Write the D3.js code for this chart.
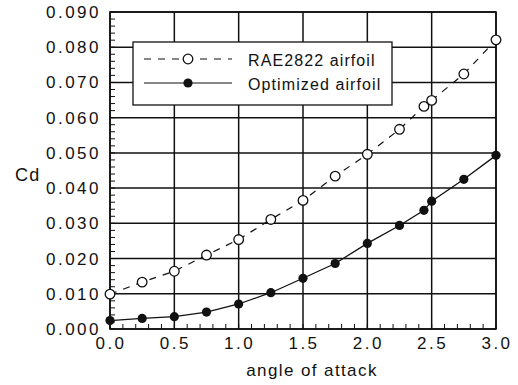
<!DOCTYPE html>
<html>
<head>
<meta charset="utf-8">
<script src="https://cdn.jsdelivr.net/npm/d3@7"></script>
<style>
  html, body { margin: 0; padding: 0; background: #fff; }
  svg text { font-family: "Liberation Sans", Arial, Helvetica, sans-serif; fill: #111; }
</style>
</head>
<body>
<svg id="chart" width="518" height="385"></svg>
<script>
// Drag coefficient vs angle of attack
const alphaRAE = [0, 0.25, 0.5, 0.75, 1.0, 1.25, 1.5, 1.75, 2.0, 2.25, 2.44, 2.5, 2.75, 3.0];
const cdRAE    = [0.0099, 0.0133, 0.0164, 0.0210, 0.0254, 0.0311, 0.0365, 0.0434, 0.0496, 0.0567, 0.0632, 0.0649, 0.0724, 0.0821];
const alphaOpt = [0, 0.25, 0.5, 0.75, 1.0, 1.25, 1.5, 1.75, 2.0, 2.25, 2.44, 2.5, 2.75, 3.0];
const cdOpt    = [0.0024, 0.0030, 0.0035, 0.0048, 0.0071, 0.0103, 0.0144, 0.0186, 0.0243, 0.0294, 0.0337, 0.0363, 0.0425, 0.0493];

const xTicks = [0, 0.5, 1.0, 1.5, 2.0, 2.5, 3.0];
const yTicks = [0, 0.01, 0.02, 0.03, 0.04, 0.05, 0.06, 0.07, 0.08, 0.09];
const seriesNames = ["RAE2822 airfoil", "Optimized airfoil"];

const svg = d3.select("#chart");
const ink = "#111";

const x = d3.scaleLinear().domain([0, 3]).range([110, 496]);
const y = d3.scaleLinear().domain([0, 0.09]).range([329, 12]);

// grid
const grid = svg.append("g").attr("stroke", ink).attr("stroke-width", 1.5);
grid.selectAll("line.vx").data(xTicks).join("line")
  .attr("x1", d => x(d)).attr("x2", d => x(d))
  .attr("y1", y(0)).attr("y2", y(0.09));
grid.selectAll("line.hy").data(yTicks).join("line")
  .attr("x1", x(0)).attr("x2", x(3))
  .attr("y1", d => y(d)).attr("y2", d => y(d));

// frame
svg.append("rect")
  .attr("x", x(0)).attr("y", y(0.09))
  .attr("width", x(3) - x(0)).attr("height", y(0) - y(0.09))
  .attr("fill", "none").attr("stroke", ink).attr("stroke-width", 1.6);

// minor ticks, pointing inward
const xMinor = d3.range(0, 31).map(i => i / 10);
const yMinor = d3.range(0, 46).map(i => i * 0.002);
svg.append("g").attr("stroke", ink).attr("stroke-width", 1)
  .selectAll("line").data(xMinor).join("line")
  .attr("x1", d => x(d)).attr("x2", d => x(d))
  .attr("y1", y(0)).attr("y2", y(0) - 5);
svg.append("g").attr("stroke", ink).attr("stroke-width", 1)
  .selectAll("line").data(yMinor).join("line")
  .attr("x1", x(0)).attr("x2", x(0) + 5)
  .attr("y1", d => y(d)).attr("y2", d => y(d));

// tick labels
svg.append("g").selectAll("text").data(xTicks).join("text")
  .attr("x", d => x(d) + 1).attr("y", 349)
  .attr("text-anchor", "middle")
  .attr("font-size", 17).attr("letter-spacing", 2.5)
  .text(d => d.toFixed(1));
svg.append("g").selectAll("text").data(yTicks).join("text")
  .attr("x", 101).attr("y", d => y(d) + 6)
  .attr("text-anchor", "end")
  .attr("font-size", 17).attr("letter-spacing", 2.5)
  .text(d => d.toFixed(3));

// axis titles
svg.append("text").attr("x", 312).attr("y", 376)
  .attr("text-anchor", "middle").attr("font-size", 17).attr("letter-spacing", 1.4)
  .text("angle of attack");
svg.append("text").attr("x", 15).attr("y", 181)
  .attr("font-size", 18).attr("letter-spacing", 1.2)
  .text("Cd");

// series
const line = d3.line().x(d => x(d[0])).y(d => y(d[1]));
const rae = alphaRAE.map((a, i) => [a, cdRAE[i]]);
const opt = alphaOpt.map((a, i) => [a, cdOpt[i]]);

svg.append("path").datum(rae).attr("d", line)
  .attr("fill", "none").attr("stroke", ink).attr("stroke-width", 1.2)
  .attr("stroke-dasharray", "7,7");
svg.append("path").datum(opt).attr("d", line)
  .attr("fill", "none").attr("stroke", ink).attr("stroke-width", 1.3);

svg.append("g").selectAll("circle").data(rae).join("circle")
  .attr("cx", d => x(d[0])).attr("cy", d => y(d[1])).attr("r", 4.8)
  .attr("fill", "#fff").attr("stroke", ink).attr("stroke-width", 1.3);
svg.append("g").selectAll("circle").data(opt).join("circle")
  .attr("cx", d => x(d[0])).attr("cy", d => y(d[1])).attr("r", 4.6)
  .attr("fill", ink);

// legend
const lg = svg.append("g");
lg.append("rect").attr("x", 133).attr("y", 42).attr("width", 259).attr("height", 63)
  .attr("fill", "#fff").attr("stroke", ink).attr("stroke-width", 1.3);
const rows = [
  { name: seriesNames[0], dy: 59, dash: "7,7", open: true },
  { name: seriesNames[1], dy: 83, dash: null, open: false }
];
rows.forEach(r => {
  lg.append("line").attr("x1", 144).attr("x2", 232).attr("y1", r.dy).attr("y2", r.dy)
    .attr("stroke", ink).attr("stroke-width", 1.2)
    .attr("stroke-dasharray", r.dash);
  lg.append("circle").attr("cx", 188).attr("cy", r.dy).attr("r", r.open ? 4.8 : 4.6)
    .attr("fill", r.open ? "#fff" : ink)
    .attr("stroke", r.open ? ink : "none").attr("stroke-width", 1.3);
  lg.append("text").attr("x", 248).attr("y", r.dy + 6.5)
    .attr("font-size", 16).attr("letter-spacing", 1.1)
    .text(r.name);
});
</script>
</body>
</html>
